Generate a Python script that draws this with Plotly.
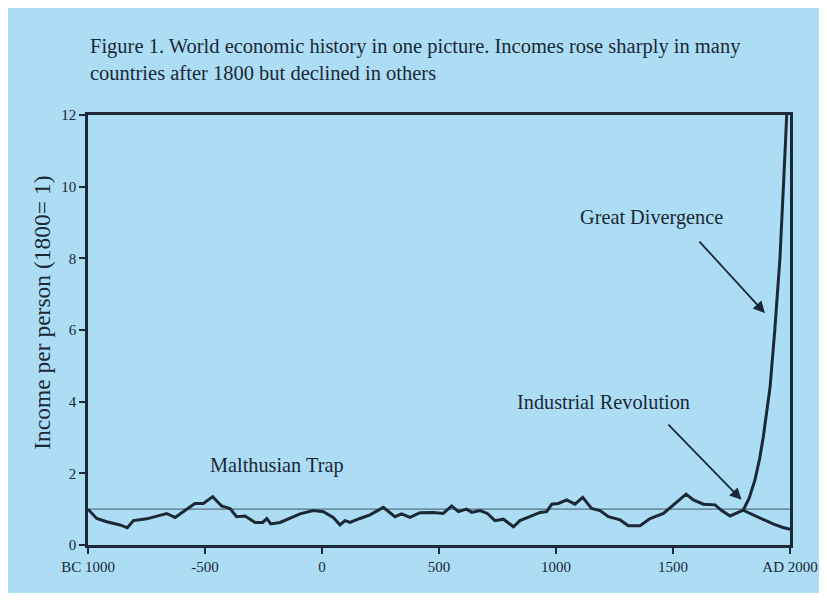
import plotly.graph_objects as go

# Malthusian era (BC 1000 .. 1800)
years_main = [-1000, -963, -920, -863, -832, -806, -749, -664, -628, -578, -543, -507, -467, -429,
              -393, -365, -329, -286, -253, -236, -219, -179, -137, -94, -37, 6, 48, 77, 98, 120,
              162, 205, 262, 312, 340, 376, 419, 476, 518, 554, 583, 618, 640, 675, 707, 739, 775,
              818, 846, 889, 932, 960, 982, 1010, 1046, 1081, 1114, 1152, 1188, 1224, 1274, 1309,
              1359, 1402, 1459, 1502, 1556, 1587, 1630, 1680, 1708, 1744, 1772, 1800]
income_main = [1.00, 0.74, 0.65, 0.56, 0.48, 0.68, 0.73, 0.88, 0.77, 1.00, 1.16, 1.16, 1.35, 1.09,
               1.02, 0.79, 0.81, 0.63, 0.63, 0.74, 0.59, 0.63, 0.74, 0.87, 0.96, 0.93, 0.77, 0.56,
               0.68, 0.63, 0.74, 0.84, 1.05, 0.79, 0.87, 0.77, 0.90, 0.91, 0.88, 1.09, 0.93, 1.00,
               0.91, 0.96, 0.88, 0.68, 0.72, 0.51, 0.68, 0.79, 0.91, 0.93, 1.14, 1.16, 1.26, 1.14,
               1.33, 1.02, 0.96, 0.79, 0.70, 0.54, 0.54, 0.74, 0.88, 1.12, 1.42, 1.26, 1.14, 1.12,
               0.96, 0.81, 0.88, 0.97]

# Great Divergence: rich branch and poor branch after 1800
years_up = [1800, 1825, 1850, 1870, 1886, 1900, 1915, 1935, 1957, 1974, 1986]
income_up = [0.97, 1.30, 1.81, 2.40, 3.02, 3.70, 4.42, 6.00, 8.00, 10.30, 12.00]
years_down = [1800, 1850, 1886, 1930, 1970, 2000]
income_down = [0.97, 0.82, 0.70, 0.58, 0.49, 0.44]

x_tickvals = [-1000, -500, 0, 500, 1000, 1500, 2000]
x_ticktext = ["BC 1000", "-500", "0", "500", "1000", "1500", "AD 2000"]
y_tickvals = [0, 2, 4, 6, 8, 10, 12]

BG = "#ACDDF4"
INK = "#1b2836"
FONT = "Liberation Serif"

fig = go.Figure()
line_style = dict(color=INK, width=3)
fig.add_trace(go.Scatter(x=years_main, y=income_main, mode="lines", line=line_style, hoverinfo="skip"))
fig.add_trace(go.Scatter(x=years_up, y=income_up, mode="lines", line=line_style, hoverinfo="skip"))
fig.add_trace(go.Scatter(x=years_down, y=income_down, mode="lines", line=line_style, hoverinfo="skip"))

fig.add_shape(type="line", xref="x", yref="y", x0=-1000, x1=2000, y0=1, y1=1,
              line=dict(color="#58707f", width=1.3), layer="below")

axis_common = dict(showgrid=False, zeroline=False, showline=True, linecolor=INK, linewidth=2.5,
                   mirror=True, ticks="outside", ticklen=6, tickwidth=2, tickcolor=INK,
                   automargin=False,
                   tickfont=dict(family=FONT, size=15, color=INK))

fig.update_layout(
    width=811, height=585,
    paper_bgcolor=BG, plot_bgcolor=BG,
    margin=dict(l=80, r=29, t=107, b=48),
    showlegend=False,
    xaxis=dict(range=[-1000, 2000], tickvals=x_tickvals, ticktext=x_ticktext, **axis_common),
    yaxis=dict(range=[0, 12], tickvals=y_tickvals, **axis_common),
)

fig.add_annotation(xref="paper", yref="paper", x=0, y=1.128, xanchor="left", yanchor="middle",
                   align="left", showarrow=False,
                   text="Figure 1. World economic history in one picture. Incomes rose sharply in many<br>"
                        "countries after 1800 but declined in others",
                   font=dict(family=FONT, size=20.5, color=INK))

fig.add_annotation(xref="paper", yref="paper", x=-0.0655, y=0.54, textangle=-90, showarrow=False,
                   xanchor="center", yanchor="middle",
                   text="Income per person (1800= 1)", font=dict(family=FONT, size=23.5, color=INK))

fig.add_annotation(xref="x", yref="y", x=-194, y=2.23, showarrow=False, xanchor="center",
                   text="Malthusian Trap", font=dict(family=FONT, size=20.3, color=INK))

fig.add_annotation(xref="x", yref="y", x=1893, y=6.47, ax=1607, ay=8.51, axref="x", ayref="y",
                   showarrow=True, arrowhead=2, arrowsize=1.3, arrowwidth=1.8, arrowcolor=INK,
                   text="")
fig.add_annotation(xref="x", yref="y", x=1410, y=9.13, showarrow=False, xanchor="center",
                   text="Great Divergence", font=dict(family=FONT, size=20.3, color=INK))

fig.add_annotation(xref="x", yref="y", x=1793, y=1.26, ax=1474, ay=3.40, axref="x", ayref="y",
                   showarrow=True, arrowhead=2, arrowsize=1.3, arrowwidth=1.8, arrowcolor=INK,
                   text="")
fig.add_annotation(xref="x", yref="y", x=1205, y=3.99, showarrow=False, xanchor="center",
                   text="Industrial Revolution", font=dict(family=FONT, size=20.3, color=INK))

fig.write_html("out.html")
